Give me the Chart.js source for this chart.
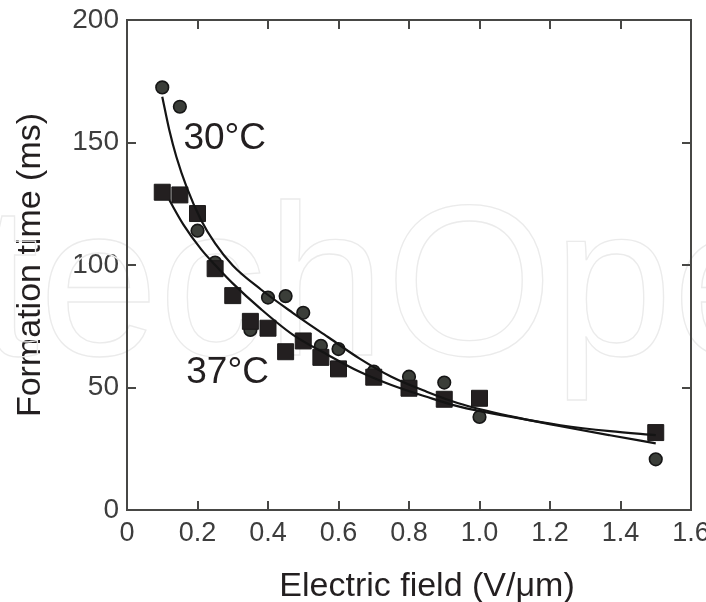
<!DOCTYPE html>
<html>
<head>
<meta charset="utf-8">
<title>Formation time vs electric field</title>
<script src="https://cdn.jsdelivr.net/npm/chart.js@4.4.1/dist/chart.umd.min.js"></script>
<style>
  html, body { margin: 0; padding: 0; background: #fff; }
  #chart { display: block; }
</style>
</head>
<body>
<canvas id="chart" width="706" height="602"></canvas>
<script>
// measured formation times at 30 °C (circles)
const field30 = [0.1, 0.15, 0.2, 0.25, 0.35, 0.4, 0.45, 0.5, 0.55, 0.6, 0.7, 0.8, 0.9, 1.0, 1.5];
const time30 = [172.5, 164.6, 114, 101, 73.5, 86.7, 87.3, 80.5, 67, 65.7, 56.5, 54.4, 52, 38, 20.7];

// measured formation times at 37 °C (squares)
const field37 = [0.1, 0.15, 0.2, 0.25, 0.3, 0.35, 0.4, 0.45, 0.5, 0.55, 0.6, 0.7, 0.8, 0.9, 1.0, 1.5];
const time37 = [129.7, 128.6, 121, 98.5, 87.5, 77, 74.2, 64.6, 69, 62.3, 57.6, 54.2, 49.7, 45.2, 45.6, 31.6];

// fitted curves, sampled along each line
const fitField30 = [0.10, 0.12, 0.14, 0.17, 0.21, 0.25, 0.30, 0.38, 0.47, 0.57, 0.66, 0.75, 0.85, 0.94, 1.09, 1.23, 1.37, 1.50];
const fitTime30 = [168.7, 155.1, 144.2, 131.5, 118.4, 108.8, 99.8, 90.0, 80.5, 70.6, 61.8, 54.4, 48.3, 43.6, 38.2, 34.2, 30.5, 27.2];
const fitField37 = [0.12, 0.16, 0.21, 0.25, 0.30, 0.38, 0.47, 0.57, 0.66, 0.75, 0.85, 0.94, 1.09, 1.23, 1.37, 1.50];
const fitTime37 = [126.5, 116.5, 106.5, 100, 92.5, 82, 71.6, 63.3, 56.4, 51, 46.2, 42.3, 38.0, 34.6, 32.2, 30.6];

// axis ticks
const xTicks = [0, 0.2, 0.4, 0.6, 0.8, 1.0, 1.2, 1.4, 1.6];
const yTicks = [0, 50, 100, 150, 200];

// curve labels, anchored in data units
const curveLabels = [
  { text: '30°C', x: 0.16, y: 147.2 },
  { text: '37°C', x: 0.168, y: 51.7 }
];

const xTitle = 'Electric field (V/\u03bcm)';
const yTitle = 'Formation time (ms)';

const FONT = '"Liberation Sans", Arial, sans-serif';
const AXIS_COLOR = '#474745';
const TEXT_COLOR = '#231f20';

const toPoints = (xs, ys) => xs.map((x, i) => ({ x: x, y: ys[i] }));

// box around the plot with ticks pointing inward on all four sides
const framePlugin = {
  id: 'frame',
  afterDraw(chart) {
    const { ctx, chartArea: a, scales } = chart;
    const len = 8;
    ctx.save();
    ctx.strokeStyle = AXIS_COLOR;
    ctx.lineWidth = 2;
    ctx.lineCap = 'square';
    ctx.strokeRect(a.left, a.top, a.right - a.left, a.bottom - a.top);
    ctx.beginPath();
    xTicks.slice(1, -1).forEach(v => {
      const px = Math.round(scales.x.getPixelForValue(v));
      ctx.moveTo(px, a.bottom); ctx.lineTo(px, a.bottom - len);
      ctx.moveTo(px, a.top); ctx.lineTo(px, a.top + len);
    });
    yTicks.slice(1, -1).forEach(v => {
      const py = Math.round(scales.y.getPixelForValue(v));
      ctx.moveTo(a.left, py); ctx.lineTo(a.left + len, py);
      ctx.moveTo(a.right, py); ctx.lineTo(a.right - len, py);
    });
    ctx.stroke();

    // x axis title sits a little right of the plot centre
    ctx.font = '34px ' + FONT;
    ctx.fillStyle = TEXT_COLOR;
    ctx.textAlign = 'center';
    ctx.textBaseline = 'alphabetic';
    ctx.fillText(xTitle, 427, 596);
    ctx.restore();
  }
};

// faint publisher mark behind the data
const watermarkPlugin = {
  id: 'watermark',
  beforeDatasetsDraw(chart) {
    const ctx = chart.ctx;
    ctx.save();
    ctx.font = '215px ' + FONT;
    ctx.strokeStyle = '#ebebeb';
    ctx.lineWidth = 1.3;
    ctx.textBaseline = 'alphabetic';
    ctx.strokeText('IntechOpen', -200, 355);
    ctx.restore();
  }
};

const curveLabelPlugin = {
  id: 'curveLabels',
  afterDatasetsDraw(chart) {
    const { ctx, scales } = chart;
    ctx.save();
    ctx.font = '37px ' + FONT;
    ctx.fillStyle = TEXT_COLOR;
    ctx.textBaseline = 'alphabetic';
    curveLabels.forEach(l => {
      ctx.fillText(l.text, scales.x.getPixelForValue(l.x), scales.y.getPixelForValue(l.y));
    });
    ctx.restore();
  }
};

new Chart(document.getElementById('chart'), {
  type: 'scatter',
  data: {
    datasets: [
      {
        label: '30°C fit',
        type: 'line',
        data: toPoints(fitField30, fitTime30),
        borderColor: '#141414',
        borderWidth: 2.2,
        pointRadius: 0,
        fill: false,
        cubicInterpolationMode: 'monotone'
      },
      {
        label: '37°C fit',
        type: 'line',
        data: toPoints(fitField37, fitTime37),
        borderColor: '#141414',
        borderWidth: 2.2,
        pointRadius: 0,
        fill: false,
        cubicInterpolationMode: 'monotone'
      },
      {
        label: '37°C',
        data: toPoints(field37, time37),
        pointStyle: 'rect',
        pointRadius: 11.3,
        backgroundColor: '#231f20',
        borderColor: '#1c1a1a',
        borderWidth: 1
      },
      {
        label: '30°C',
        data: toPoints(field30, time30),
        pointStyle: 'circle',
        pointRadius: 6.3,
        backgroundColor: '#3b3e39',
        borderColor: '#161616',
        borderWidth: 1.6
      }
    ]
  },
  options: {
    responsive: false,
    animation: false,
    layout: { padding: { left: 0, right: 15, top: 20, bottom: 0 } },
    plugins: {
      legend: { display: false },
      tooltip: { enabled: false }
    },
    scales: {
      x: {
        type: 'linear',
        min: 0,
        max: 1.6,
        afterBuildTicks: s => { s.ticks = xTicks.map(v => ({ value: v })); },
        afterFit: s => { s.height = 92; s.paddingLeft = 0; s.paddingRight = 0; },
        grid: { display: false, drawTicks: false },
        border: { display: false },
        ticks: {
          color: '#3d3d3d',
          font: { family: FONT, size: 27 },
          padding: 7,
          maxRotation: 0,
          callback: v => (v === 0 ? '0' : v.toFixed(1))
        }
      },
      y: {
        type: 'linear',
        min: 0,
        max: 200,
        afterBuildTicks: s => { s.ticks = yTicks.map(v => ({ value: v })); },
        afterFit: s => { s.width = 127; s.paddingTop = 0; s.paddingBottom = 0; },
        grid: { display: false, drawTicks: false },
        border: { display: false },
        ticks: {
          color: '#3d3d3d',
          font: { family: FONT, size: 28 },
          padding: 8
        },
        title: {
          display: true,
          text: yTitle,
          color: TEXT_COLOR,
          font: { family: FONT, size: 34 },
          padding: { top: 10, bottom: 0 }
        }
      }
    }
  },
  plugins: [watermarkPlugin, curveLabelPlugin, framePlugin]
});
</script>
</body>
</html>
